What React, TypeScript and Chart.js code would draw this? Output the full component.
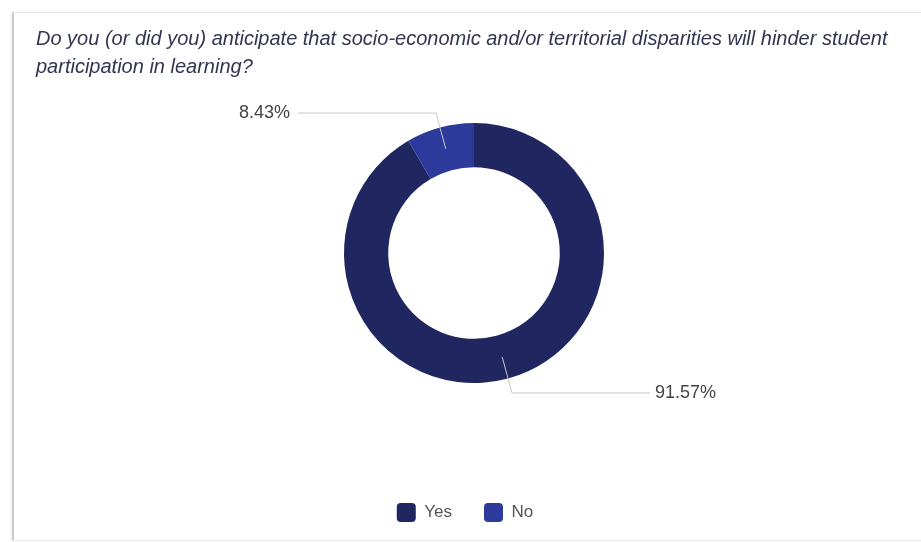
import React, { useEffect, useRef } from "react";
import { Chart, registerables } from "chart.js";

Chart.register(...registerables);

const titleLines = [
  "Do you (or did you) anticipate that socio-economic and/or territorial disparities will hinder student",
  "participation in learning?",
];
const categories = ["Yes", "No"];
const values = [91.57, 8.43];
const colors = ["#1f2660", "#2c3b9b"];

const leaderPlugin = {
  id: "leaders",
  afterDatasetsDraw(chart: any) {
    const ctx = chart.ctx;
    const meta = chart.getDatasetMeta(0);
    const ds = chart.data.datasets[0];
    ctx.save();
    meta.data.forEach((arc: any, i: number) => {
      const p = arc.getProps(["x", "y", "startAngle", "endAngle", "innerRadius", "outerRadius"], true);
      const mid = (p.startAngle + p.endAngle) / 2;
      const rIn = (p.innerRadius + p.outerRadius) / 2;
      const rEl = p.outerRadius + 15;
      const x0 = p.x + Math.cos(mid) * rIn;
      const y0 = p.y + Math.sin(mid) * rIn;
      const x1 = p.x + Math.cos(mid) * rEl;
      const y1 = p.y + Math.sin(mid) * rEl;
      const right = Math.cos(mid) >= 0;
      const x2 = x1 + (right ? 138 : -138);
      ctx.strokeStyle = "#c8c8c8";
      ctx.lineWidth = 1;
      ctx.beginPath();
      ctx.moveTo(x0, y0);
      ctx.lineTo(x1, y1);
      ctx.lineTo(x2, y1);
      ctx.stroke();
      ctx.fillStyle = "#444444";
      ctx.font = "18px 'Liberation Sans', Arial, sans-serif";
      ctx.textBaseline = "middle";
      ctx.textAlign = right ? "left" : "right";
      const v = ds.data[i] as number;
      ctx.fillText(v.toFixed(2) + "%", x2 + (right ? 5 : -8), y1);
    });
    ctx.restore();
  },
};

const legendShiftPlugin = {
  id: "legendShift",
  afterLayout(chart: any) {
    const lg = chart.legend;
    if (lg) {
      lg.left -= 9;
      lg.right -= 9;
    }
  },
};

export default function App() {
  const ref = useRef<HTMLCanvasElement | null>(null);
  useEffect(() => {
    if (!ref.current) return;
    const chart = new Chart(ref.current, {
      type: "doughnut",
      data: {
        labels: categories,
        datasets: [
          {
            data: values,
            backgroundColor: colors,
            borderWidth: 0,
            radius: 130,
            cutout: "66%",
          } as any,
        ],
      },
      options: {
        responsive: false,
        animation: false,
        layout: { padding: { left: 40, right: 13, top: 35, bottom: 10 } },
        plugins: {
          title: { display: false },
          tooltip: { enabled: false },
          legend: {
            position: "bottom",
            labels: {
              boxWidth: 19,
              boxHeight: 19,
              useBorderRadius: true,
              borderRadius: 4,
              padding: 32,
              color: "#555555",
              font: { size: 17, family: "'Liberation Sans', Arial, sans-serif" },
            },
          },
        },
      } as any,
      plugins: [leaderPlugin, legendShiftPlugin],
    });
    return () => chart.destroy();
  }, []);

  return (
    <div style={{ position: "absolute", left: 0, top: 0, width: 921, height: 542, background: "#ffffff", overflow: "hidden" }}>
      <div
        style={{
          position: "absolute",
          left: 12,
          top: 12,
          width: 920,
          height: 527,
          borderLeft: "2px solid #cccccc",
          borderTop: "1px solid #e6e6e6",
          borderBottom: "1px solid #eeeeee",
          boxShadow: "-1px 0 2px rgba(0,0,0,0.08)",
        }}
      />
      <canvas ref={ref} width={921} height={542} style={{ position: "absolute", left: 0, top: 0 }} />
      <div
        style={{
          position: "absolute",
          left: 36,
          top: 24,
          fontFamily: "'Liberation Sans', Arial, sans-serif",
          fontStyle: "italic",
          fontSize: 20,
          lineHeight: "28px",
          color: "#30364f",
          whiteSpace: "nowrap",
        }}
      >
        {titleLines.map((t, i) => (
          <div key={i}>{t}</div>
        ))}
      </div>
    </div>
  );
}
